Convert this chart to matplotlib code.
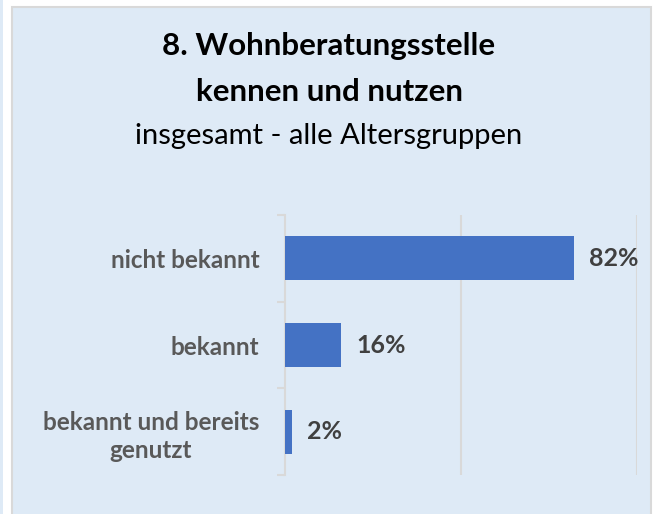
import matplotlib.pyplot as plt
from matplotlib.patches import Rectangle

categories = ["nicht bekannt", "bekannt", "bekannt und bereits\ngenutzt"]
shares = [82, 16, 2]
value_labels = ["82%", "16%", "2%"]

title_lines = ["8. Wohnberatungsstelle", "kennen und nutzen"]
subtitle = "insgesamt - alle Altersgruppen"

BAR_COLOR = "#4472C4"
PANEL_COLOR = "#DEEAF6"
GRID_COLOR = "#D9D9D9"

W, H = 657, 514
plt.rcParams["font.family"] = ["Lato", "DejaVu Sans"]

fig = plt.figure(figsize=(W / 100, H / 100), dpi=100, facecolor="white")

# panel background with a thin grey frame (kept behind the axes)
fig.patches.append(Rectangle((0, 0), 3 / W, 1, transform=fig.transFigure,
                             facecolor=PANEL_COLOR, edgecolor="none", zorder=-2))
fig.patches.append(Rectangle((12 / W, -0.01), (651 - 12) / W, 1 - 7 / H + 0.01,
                             transform=fig.transFigure, facecolor=PANEL_COLOR,
                             edgecolor=GRID_COLOR, linewidth=1.5, zorder=-2))

# title block
cx = 329 / W
fig.text(cx, 1 - 55 / H, title_lines[0], ha="center", va="baseline",
         fontsize=22.5, fontweight="bold", color="black")
fig.text(cx, 1 - 101 / H, title_lines[1], ha="center", va="baseline",
         fontsize=22.5, fontweight="bold", color="black")
fig.text(cx, 1 - 144 / H, subtitle, ha="center", va="baseline",
         fontsize=21, color="black")

ax = fig.add_axes([285 / W, 1 - 475 / H, (637 - 285) / W, (475 - 215) / H])
ax.set_facecolor("none")

pos = list(range(len(categories)))
ax.barh(pos, [s / 100 for s in shares], height=0.51, color=BAR_COLOR, zorder=3)

for p, s, lab in zip(pos, shares, value_labels):
    ax.annotate(lab, (s / 100, p), xytext=(11, 0), textcoords="offset points",
                ha="left", va="center", fontsize=18, fontweight="bold",
                color="#404040")

ax.set_xlim(0, 1)
ax.set_ylim(2.5, -0.5)

for gx in (0.5, 1.0):
    ax.axvline(gx, color=GRID_COLOR, linewidth=1.5, zorder=1)

for side in ("top", "right", "bottom"):
    ax.spines[side].set_visible(False)
ax.spines["left"].set_color(GRID_COLOR)
ax.spines["left"].set_linewidth(1.5)

ax.set_xticks([])
ax.set_yticks(pos)
ax.set_yticklabels(categories, fontsize=17.5, fontweight="bold", color="#595959")
for t in ax.get_yticklabels():
    t.set_multialignment("center")
    t.set_linespacing(1.3)
ax.tick_params(axis="y", which="major", length=0, pad=18.5)
ax.set_yticks([-0.5, 0.5, 1.5, 2.5], minor=True)
ax.tick_params(axis="y", which="minor", length=6, width=1.5, color=GRID_COLOR)

fig.savefig("out.png", dpi=100, facecolor="white")
